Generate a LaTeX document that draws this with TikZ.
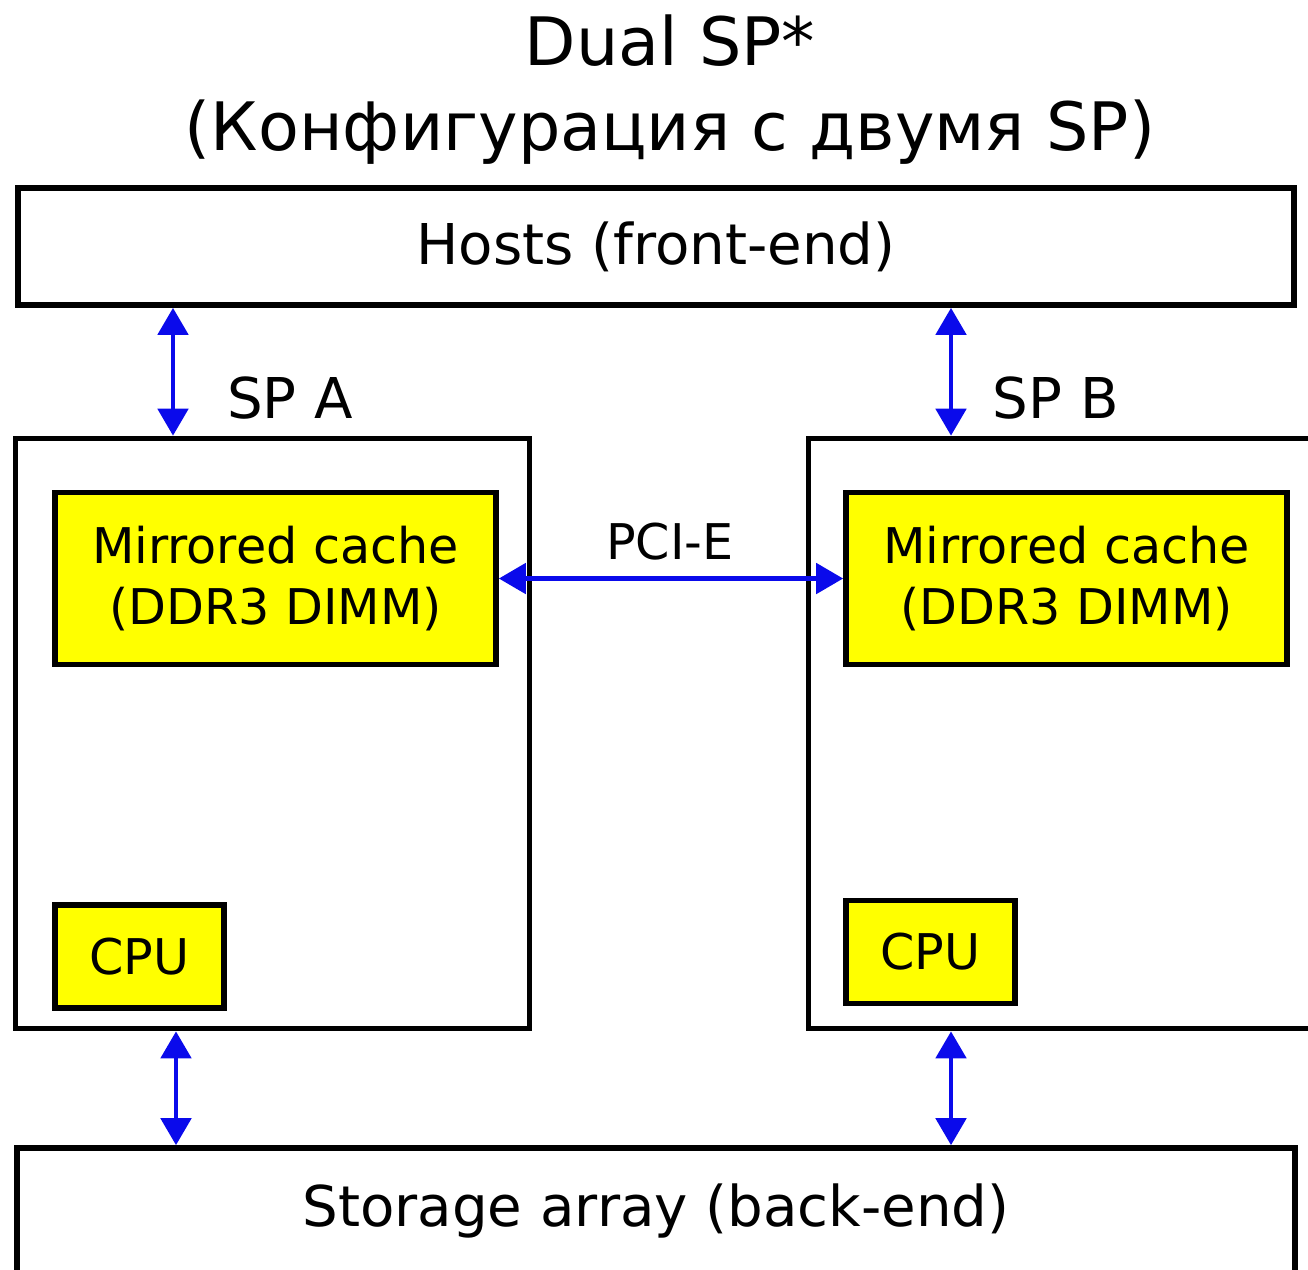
\documentclass[tikz,border=0pt]{standalone}
\usepackage{fontspec}
\setmainfont{DejaVu Sans}
\usetikzlibrary{arrows.meta,calc}
\definecolor{cacheyellow}{RGB}{255,255,0}
\definecolor{linkblue}{RGB}{10,10,235}

\begin{document}
\begin{tikzpicture}[
  box/.style={draw, line width=1.6pt, rectangle, inner sep=0pt},
  chip/.style={box, fill=cacheyellow, font=\fontsize{14}{17.4}\selectfont, align=center},
  link/.style={linkblue, line width=1.4pt, {Triangle[length=0.27cm,width=0.3cm]}-{Triangle[length=0.27cm,width=0.3cm]}},
  big/.style={font=\fontsize{16}{19}\selectfont}]
\useasboundingbox (0,0) rectangle (13.08,-12.69);
\clip (0,0) rectangle (13.08,-12.69);
\node [align=center, font=\fontsize{19}{24.2}\selectfont] (title) at (6.7,-0.9) {Dual SP*\\(Конфигурация с двумя SP)};
\node [box, big, minimum width=12.76cm, minimum height=1.17cm] (hosts) at (6.56,-2.465) {Hosts (front-end)};
\node [box, minimum width=5.14cm, minimum height=5.9cm] (spA) at (2.725,-7.335) {};
\node [box, minimum width=5.14cm, minimum height=5.9cm] (spB) at (10.655,-7.335) {};
\node [chip, minimum width=4.41cm, minimum height=1.72cm] (cacheA) at (2.755,-5.785) {Mirrored cache\\(DDR3 DIMM)};
\node [chip, minimum width=4.41cm, minimum height=1.72cm] (cacheB) at (10.665,-5.785) {Mirrored cache\\(DDR3 DIMM)};
\node [chip, minimum width=1.69cm, minimum height=1.03cm] (cpuA) at (1.395,-9.565) {CPU};
\node [chip, minimum width=1.69cm, minimum height=1.03cm] (cpuB) at (9.305,-9.52) {CPU};
\node [box, big, minimum width=12.78cm, minimum height=1.26cm] (storage) at (6.56,-12.11) {Storage array (back-end)};
\node [big] (labA) at (2.9,-3.98) {SP A};
\node [big] (labB) at (10.56,-3.98) {SP B};
\node [font=\fontsize{14}{17}\selectfont] (pcie) at (6.7,-5.42) {PCI-E};
\coordinate (xa) at (1.73,0);
\coordinate (xab) at (1.76,0);
\coordinate (xb) at (9.51,0);
\draw [link] (hosts.south -| xa) -- (spA.north -| xa);
\draw [link] (hosts.south -| xb) -- (spB.north -| xb);
\draw [link] (spA.south -| xab) -- (storage.north -| xab);
\draw [link] (spB.south -| xb) -- (storage.north -| xb);
\draw [link] (cacheA.east) -- (cacheB.west);
\end{tikzpicture}
\end{document}
